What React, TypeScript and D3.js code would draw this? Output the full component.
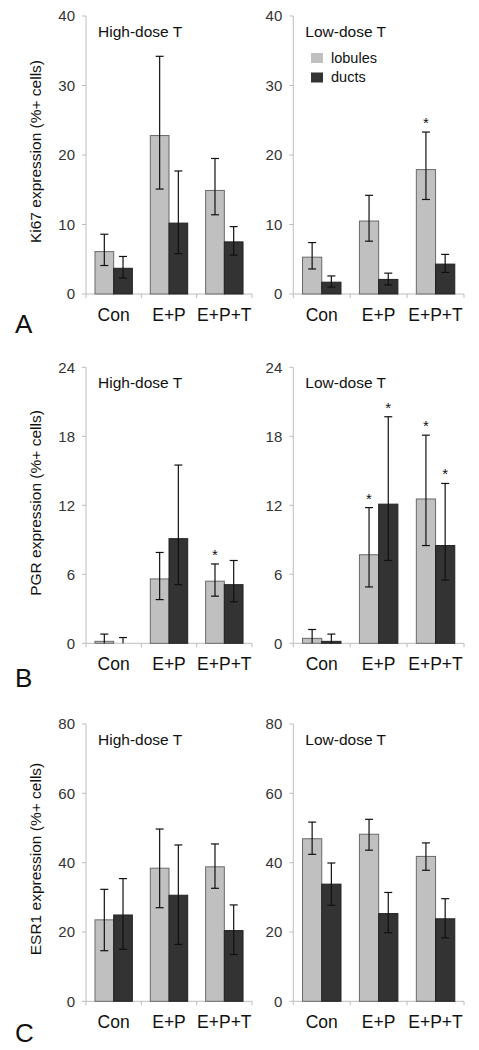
import React from "react";
import * as d3 from "d3";

const categories = ["Con", "E+P", "E+P+T"];
const seriesNames = ["lobules", "ducts"];

// Ki67
const ki67HighLobules = [6.1, 22.8, 14.9];
const ki67HighLobulesLo = [4.1, 15.1, 11.4];
const ki67HighLobulesHi = [8.6, 34.2, 19.5];
const ki67HighDucts = [3.7, 10.2, 7.5];
const ki67HighDuctsLo = [2.3, 5.8, 5.6];
const ki67HighDuctsHi = [5.4, 17.7, 9.7];
const ki67LowLobules = [5.3, 10.5, 17.9];
const ki67LowLobulesLo = [3.6, 7.6, 13.6];
const ki67LowLobulesHi = [7.4, 14.2, 23.3];
const ki67LowDucts = [1.7, 2.1, 4.3];
const ki67LowDuctsLo = [1.0, 1.3, 3.1];
const ki67LowDuctsHi = [2.6, 3.0, 5.7];

// PGR
const pgrHighLobules = [0.17, 5.6, 5.4];
const pgrHighLobulesLo = [0, 3.8, 4.1];
const pgrHighLobulesHi = [0.8, 7.9, 6.9];
const pgrHighDucts = [0, 9.1, 5.1];
const pgrHighDuctsLo = [0, 5.1, 3.6];
const pgrHighDuctsHi = [0.5, 15.5, 7.2];
const pgrLowLobules = [0.43, 7.7, 12.55];
const pgrLowLobulesLo = [0, 4.9, 8.5];
const pgrLowLobulesHi = [1.2, 11.8, 18.1];
const pgrLowDucts = [0.17, 12.1, 8.5];
const pgrLowDuctsLo = [0, 7.2, 5.5];
const pgrLowDuctsHi = [0.8, 19.7, 13.9];

// ESR1
const esrHighLobules = [23.5, 38.4, 38.8];
const esrHighLobulesLo = [14.6, 27.0, 32.6];
const esrHighLobulesHi = [32.3, 49.7, 45.4];
const esrHighDucts = [24.9, 30.6, 20.4];
const esrHighDuctsLo = [15.0, 16.4, 13.5];
const esrHighDuctsHi = [35.4, 45.1, 27.8];
const esrLowLobules = [46.9, 48.2, 41.8];
const esrLowLobulesLo = [42.4, 43.6, 37.8];
const esrLowLobulesHi = [51.7, 52.5, 45.7];
const esrLowDucts = [33.8, 25.3, 23.8];
const esrLowDuctsLo = [27.7, 19.8, 18.3];
const esrLowDuctsHi = [39.9, 31.4, 29.6];

// significance markers (1 = asterisk)
const noSig = [0, 0, 0];
const ki67LowLobulesSig = [0, 0, 1];
const pgrHighLobulesSig = [0, 0, 1];
const pgrLowLobulesSig = [0, 1, 1];
const pgrLowDuctsSig = [0, 1, 1];

const ki67Ticks = [0, 10, 20, 30, 40];
const pgrTicks = [0, 6, 12, 18, 24];
const esrTicks = [0, 20, 40, 60, 80];

const FONT = "'Liberation Sans', Arial, Helvetica, sans-serif";
const COLORS = { lobules: "#c0c0c0", ducts: "#333333" };
const STROKES = { lobules: "#6a6a6a", ducts: "#222222" };

type S = { v: number[]; lo: number[]; hi: number[]; sig: number[] };

const rows = [
  {
    letter: "A",
    label: "Ki67 expression (%+ cells)",
    ticks: ki67Ticks,
    y0: 294,
    yTop: 16,
    high: [
      { v: ki67HighLobules, lo: ki67HighLobulesLo, hi: ki67HighLobulesHi, sig: noSig },
      { v: ki67HighDucts, lo: ki67HighDuctsLo, hi: ki67HighDuctsHi, sig: noSig },
    ],
    low: [
      { v: ki67LowLobules, lo: ki67LowLobulesLo, hi: ki67LowLobulesHi, sig: ki67LowLobulesSig },
      { v: ki67LowDucts, lo: ki67LowDuctsLo, hi: ki67LowDuctsHi, sig: noSig },
    ],
    legend: true,
  },
  {
    letter: "B",
    label: "PGR expression (%+ cells)",
    ticks: pgrTicks,
    y0: 643.3,
    yTop: 367.3,
    high: [
      { v: pgrHighLobules, lo: pgrHighLobulesLo, hi: pgrHighLobulesHi, sig: pgrHighLobulesSig },
      { v: pgrHighDucts, lo: pgrHighDuctsLo, hi: pgrHighDuctsHi, sig: noSig },
    ],
    low: [
      { v: pgrLowLobules, lo: pgrLowLobulesLo, hi: pgrLowLobulesHi, sig: pgrLowLobulesSig },
      { v: pgrLowDucts, lo: pgrLowDuctsLo, hi: pgrLowDuctsHi, sig: pgrLowDuctsSig },
    ],
    legend: false,
  },
  {
    letter: "C",
    label: "ESR1 expression (%+ cells)",
    ticks: esrTicks,
    y0: 1001.3,
    yTop: 724,
    high: [
      { v: esrHighLobules, lo: esrHighLobulesLo, hi: esrHighLobulesHi, sig: noSig },
      { v: esrHighDucts, lo: esrHighDuctsLo, hi: esrHighDuctsHi, sig: noSig },
    ],
    low: [
      { v: esrLowLobules, lo: esrLowLobulesLo, hi: esrLowLobulesHi, sig: noSig },
      { v: esrLowDucts, lo: esrLowDuctsLo, hi: esrLowDuctsHi, sig: noSig },
    ],
    legend: false,
  },
];

const columns = [
  { key: "high", title: "High-dose T", x0: 86, x1: 252 },
  { key: "low", title: "Low-dose T", x0: 293.3, x1: 464 },
];

function Panel({ row, col }: { row: any; col: any }) {
  const y = d3.scaleLinear().domain([0, row.ticks[row.ticks.length - 1]]).range([row.y0, row.yTop]);
  const xg = d3.scaleBand().domain(categories).range([col.x0, col.x1]).paddingInner(0).paddingOuter(0);
  const xs = d3.scaleBand().domain(seriesNames).range([0, xg.bandwidth()]).paddingInner(0).paddingOuter(0.48);
  const series: S[] = row[col.key];
  const bounds = [col.x0, ...categories.map((c) => (xg(c) as number) + xg.bandwidth())];
  return (
    <g>
      <line x1={col.x0} x2={col.x0} y1={row.yTop} y2={row.y0} stroke="#bdbdbd" strokeWidth={1} />
      {row.ticks.map((t: number) => (
        <g key={t}>
          <line x1={col.x0 - 4} x2={col.x0} y1={y(t)} y2={y(t)} stroke="#bdbdbd" strokeWidth={1} />
          <text x={col.x0 - 11} y={y(t)} dy="0.35em" textAnchor="end" fontSize={15} fill="#333" fontFamily={FONT}>
            {t}
          </text>
        </g>
      ))}
      <line x1={col.x0} x2={col.x1} y1={row.y0} y2={row.y0} stroke="#bdbdbd" strokeWidth={1} />
      {bounds.map((b, i) => (
        <line key={i} x1={b} x2={b} y1={row.y0} y2={row.y0 + 4} stroke="#bdbdbd" strokeWidth={1} />
      ))}
      {categories.map((c, ci) => (
        <g key={c}>
          {series.map((s, si) => {
            const name = seriesNames[si] as "lobules" | "ducts";
            const bx = (xg(c) as number) + (xs(name) as number);
            const bw = xs.bandwidth();
            const top = y(s.v[ci]);
            const cx = bx + bw / 2;
            const eTop = y(s.hi[ci]);
            const eBot = y(s.lo[ci]);
            return (
              <g key={name}>
                {s.v[ci] > 0 && (
                  <rect x={bx} y={top} width={bw} height={row.y0 - top} fill={COLORS[name]} stroke={STROKES[name]} strokeWidth={1} />
                )}
                <line x1={cx} x2={cx} y1={eTop} y2={eBot} stroke="#111" strokeWidth={1.2} />
                <line x1={cx - 4} x2={cx + 4} y1={eTop} y2={eTop} stroke="#111" strokeWidth={1.2} />
                {s.lo[ci] > 0 && <line x1={cx - 4} x2={cx + 4} y1={eBot} y2={eBot} stroke="#111" strokeWidth={1.2} />}
                {s.sig[ci] ? (
                  <text x={cx} y={eTop - 4} textAnchor="middle" fontSize={15} fill="#111" fontFamily={FONT}>
                    *
                  </text>
                ) : null}
              </g>
            );
          })}
          <text
            x={(xg(c) as number) + xg.bandwidth() / 2}
            y={row.y0 + 27}
            textAnchor="middle"
            fontSize={17.5}
            fill="#111"
            fontFamily={FONT}
          >
            {c}
          </text>
        </g>
      ))}
      <text x={col.x0 + 12} y={row.yTop + 21} fontSize={15.5} fill="#111" fontFamily={FONT}>
        {col.title}
      </text>
    </g>
  );
}

export default function App() {
  const letterY = [333, 687, 1042];
  const labelCY = [151.5, 503, 859];
  return (
    <svg width={479} height={1050} style={{ position: "absolute", left: 0, top: 0, background: "#fff" }}>
      <rect width={479} height={1050} fill="#fff" />
      {rows.map((row, ri) => (
        <g key={row.letter}>
          {columns.map((col) => (
            <Panel key={col.key} row={row} col={col} />
          ))}
          <text
            transform={`translate(41,${labelCY[ri]}) rotate(-90)`}
            textAnchor="middle"
            fontSize={15.5}
            fill="#111"
            fontFamily={FONT}
          >
            {row.label}
          </text>
          <text x={15} y={letterY[ri]} fontSize={26} fill="#111" fontFamily={FONT}>
            {row.letter}
          </text>
          {row.legend && (
            <g>
              {seriesNames.map((n, i) => (
                <g key={n}>
                  <rect x={311} y={53 + i * 19.5} width={12} height={10} fill={COLORS[n as "lobules" | "ducts"]} />
                  <text x={331} y={62.5 + i * 19.5} fontSize={14.5} fill="#111" fontFamily={FONT}>
                    {n}
                  </text>
                </g>
              ))}
            </g>
          )}
        </g>
      ))}
    </svg>
  );
}
